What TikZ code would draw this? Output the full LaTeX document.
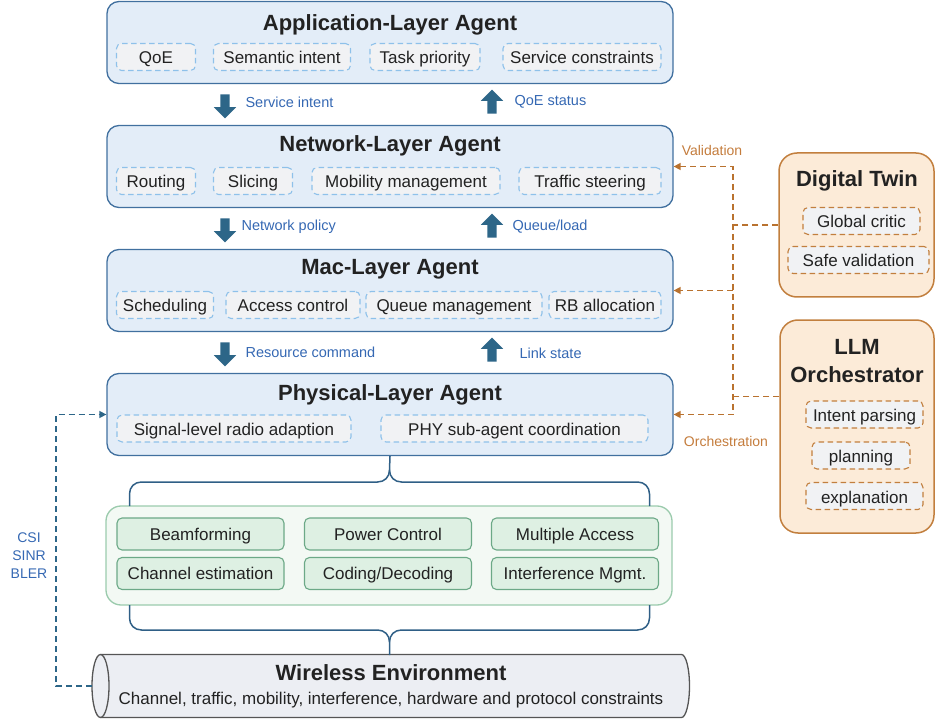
\documentclass[tikz,border=0pt]{standalone}
\usepackage{fontspec}
\setmainfont{Liberation Sans}
\usetikzlibrary{positioning,shapes.arrows,arrows.meta}

\definecolor{layerfill}{HTML}{E3EDF8}
\definecolor{layerline}{HTML}{41709F}
\definecolor{itemfill}{HTML}{F1F2F4}
\definecolor{itemline}{HTML}{8EC1EA}
\definecolor{arrowblue}{HTML}{2D6688}
\definecolor{labelblue}{HTML}{3568B3}
\definecolor{orgfill}{HTML}{FCEBD8}
\definecolor{orgline}{HTML}{C27F3E}
\definecolor{orgdash}{HTML}{B9722F}
\definecolor{orgtext}{HTML}{C47C3C}
\definecolor{grnfill}{HTML}{F3F9F4}
\definecolor{grnline}{HTML}{9BCBAD}
\definecolor{cellfill}{HTML}{DEF0E3}
\definecolor{cellline}{HTML}{6CA987}
\definecolor{envfill}{HTML}{ECEEF3}
\definecolor{envline}{HTML}{555555}
\definecolor{bracecol}{HTML}{2F5F86}
\definecolor{darktext}{HTML}{222222}

\begin{document}
\begin{tikzpicture}[x=1pt, y=-1pt, node distance=124pt,
    layer/.style={draw=layerline, fill=layerfill, line width=1.3pt, rounded corners=12pt,
        minimum width=566pt, minimum height=82pt},
    ttl/.style={font=\fontsize{22}{28}\selectfont\bfseries, text=darktext, align=center},
    item/.style={draw=itemline, fill=itemfill, line width=1.1pt, dash pattern=on 5.5pt off 3.5pt,
        rounded corners=5pt, minimum height=27pt, inner sep=0pt,
        text height=15pt, text depth=1pt,
        font=\fontsize{17}{20}\selectfont, text=darktext},
    oitem/.style={item, draw=orgline},
    cell/.style={draw=cellline, fill=cellfill, line width=1.1pt, rounded corners=5pt,
        minimum width=167pt, minimum height=32pt, inner sep=0pt,
        text height=14pt, text depth=1.8pt,
        font=\fontsize{17}{20}\selectfont, text=darktext},
    orgbox/.style={draw=orgline, fill=orgfill, line width=1.5pt, rounded corners=18pt},
    downarr/.style={single arrow, fill=arrowblue, minimum height=24pt, minimum width=22pt,
        single arrow head extend=6.5pt, inner sep=4.5pt, shape border rotate=270},
    uparr/.style={downarr, shape border rotate=90},
    flow/.style={font=\fontsize{14.5}{17}\selectfont, text=labelblue, anchor=west},
    orc/.style={draw=orgdash, line width=1.5pt, dash pattern=on 6pt off 4pt},
    csiline/.style={draw=arrowblue, line width=1.5pt, dash pattern=on 6pt off 4pt},
    brace/.style={draw=bracecol, line width=1.5pt}]

    \useasboundingbox (0,0) rectangle (935,722);

    \node[layer] (app) at (390,42.5) {};
    \node[layer] (net) [below of=app] {};
    \node[layer] (mac) [below of=net] {};
    \node[layer] (phy) [below of=mac] {};

    \node[ttl] (appt) at (390,25) {Application-Layer Agent};
    \node[ttl] (nett) at (390,145.5) {Network-Layer Agent};
    \node[ttl] (mact) at (390,269.5) {Mac-Layer Agent};
    \node[ttl] (phyt) at (390,395) {Physical-Layer Agent};

    \node[item, minimum width=79pt] (qoe) at (156,57) {QoE};
    \node[item, minimum width=137pt] (sem) at (282,57) {Semantic intent};
    \node[item, minimum width=110pt] (task) at (425,57) {Task priority};
    \node[item, minimum width=158pt] (serv) at (582,57) {Service constraints};

    \node[item, minimum width=79pt] (rout) at (156,181) {Routing};
    \node[item, minimum width=79pt] (slic) at (253,181) {Slicing};
    \node[item, minimum width=188pt] (mob) at (406,181) {Mobility management};
    \node[item, minimum width=142pt] (traf) at (590,181) {Traffic steering};

    \node[item, minimum width=97pt] (sched) at (165,305) {Scheduling};
    \node[item, minimum width=134pt] (acc) at (293,305) {Access control};
    \node[item, minimum width=176pt] (queue) at (454,305) {Queue management};
    \node[item, minimum width=112pt] (rb) at (605,305) {RB allocation};

    \node[item, minimum width=234pt] (sig) at (234,428.5) {Signal-level radio adaption};
    \node[item, minimum width=267pt] (coord) at (514.5,428.5) {PHY sub-agent coordination};

    \node[downarr] (sint) at (225,104) {};
    \node[uparr] (qstat) at (492,104) {};
    \node[downarr] (npol) at (225,228) {};
    \node[uparr] (qload) at (492,228) {};
    \node[downarr] (rcmd) at (225,352) {};
    \node[uparr] (lstat) at (492,352) {};

    \node[flow] (sintl) at (242,102) {Service intent};
    \node[flow] (qstatl) at (511,102) {QoE status};
    \node[flow] (npoll) at (238,227) {Network policy};
    \node[flow] (qloadl) at (509,227) {Queue/load};
    \node[flow] (rcmdl) at (242,352) {Resource command};
    \node[flow] (lstatl) at (516,353) {Link state};

    \node[draw=grnline, fill=grnfill, line width=1.3pt, rounded corners=15pt,
        minimum width=566pt, minimum height=99pt] (grp) at (389,555.5) {};
    \node[cell] (beam) at (200.5,534) {Beamforming};
    \node[cell] (pow) at (388,534) {Power Control};
    \node[cell] (mult) at (575,534) {Multiple Access};
    \node[cell] (chan) at (200.5,573.5) {Channel estimation};
    \node[cell] (code) at (388,573.5) {Coding/Decoding};
    \node[cell] (intf) at (575,573.5) {Interference Mgmt.};

    \node[minimum width=598pt, minimum height=63pt, inner sep=0pt] (env) at (391,686) {};
    \draw[draw=envline, fill=envfill, line width=1.3pt]
        (100.5,654.5) -- (681.5,654.5) arc[start angle=90, end angle=-90, x radius=8pt, y radius=31.5pt]
        -- (100.5,717.5) arc[start angle=270, end angle=90, x radius=8.5pt, y radius=31.5pt] -- cycle;
    \draw[draw=envline, line width=1.3pt]
        (100.5,654.5) arc[start angle=90, end angle=-90, x radius=8.5pt, y radius=31.5pt];
    \node[ttl] (envt) at (391,673) {Wireless Environment};
    \node[font=\fontsize{17}{20}\selectfont, text=darktext] (envs) at (391,700)
        {Channel, traffic, mobility, interference, hardware and protocol constraints};

    \draw[brace] (129.5,506) -- (129.5,494) .. controls (129.5,487) and (134.5,482) .. (141.5,482)
        -- (377.5,482) .. controls (384.5,482) and (389.5,477) .. (389.5,470) -- (phy.south);
    \draw[brace] (649.5,506) -- (649.5,494) .. controls (649.5,487) and (644.5,482) .. (637.5,482)
        -- (401.5,482) .. controls (394.5,482) and (389.5,477) .. (389.5,470);
    \draw[brace] (129.5,605) -- (129.5,618) .. controls (129.5,625) and (134.5,630) .. (141.5,630)
        -- (377.5,630) .. controls (384.5,630) and (389.5,635) .. (389.5,642) -- (389.5,655);
    \draw[brace] (649.5,605) -- (649.5,618) .. controls (649.5,625) and (644.5,630) .. (637.5,630)
        -- (401.5,630) .. controls (394.5,630) and (389.5,635) .. (389.5,642);

    \node[orgbox, minimum width=155pt, minimum height=144pt] (dt) at (856.5,225) {};
    \node[ttl] (dtt) at (857,181) {Digital Twin};
    \node[oitem, minimum width=117pt] (crit) at (861.5,221) {Global critic};
    \node[oitem, minimum width=141pt] (safe) at (858.5,260) {Safe validation};

    \node[orgbox, minimum width=154pt, minimum height=213pt] (llm) at (857,426.5) {};
    \node[ttl] (llmt) at (857,361) {LLM\\Orchestrator};
    \node[oitem, minimum width=117pt] (pars) at (864.5,414.5) {Intent parsing};
    \node[oitem, minimum width=98pt] (plan) at (861,455.5) {planning};
    \node[oitem, minimum width=117pt] (expl) at (864.5,496) {explanation};

    \coordinate (vbus) at (733,300);
    \draw[orc, {Triangle[length=7pt,width=7pt]}-{Triangle[length=7pt,width=7pt]}]
        (net.east) -- (net.east -| vbus) -- (phy.east -| vbus) -- (phy.east);
    \draw[orc, -{Triangle[length=7pt,width=7pt]}] (mac.east -| vbus) -- (mac.east);
    \draw[orc] (dt.west) -- (dt.west -| vbus);
    \draw[orc] ([yshift=30pt]llm.west) -- ([yshift=30pt]llm.west -| vbus);
    \node[font=\fontsize{14}{17}\selectfont, text=orgtext] (vallab) at (712,150) {Validation};
    \node[font=\fontsize{14}{17}\selectfont, text=orgtext] (orclab) at (726,441) {Orchestration};

    \coordinate (csibus) at (56,550);
    \draw[csiline, -{Triangle[length=7pt,width=7pt]}]
        (env.west) -- (env.west -| csibus) -- (phy.west -| csibus) -- (phy.west);
    \node[font=\fontsize{14}{18}\selectfont, text=labelblue, align=center] (csi) at (29,556) {CSI\\SINR\\BLER};
\end{tikzpicture}
\end{document}
